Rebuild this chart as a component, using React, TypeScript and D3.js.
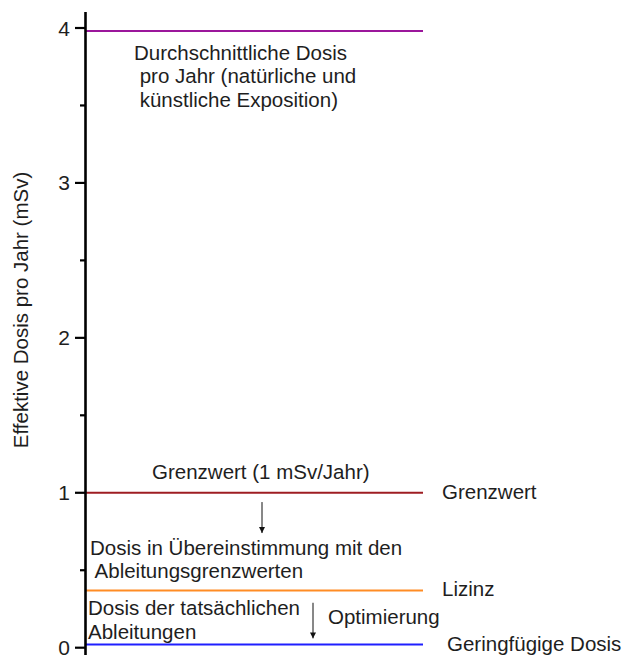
import React from "react";
import * as d3 from "d3";

// ---- data ----
const yTicks = [0, 1, 2, 3, 4];
const yMinorTicks = [0.5, 1.5, 2.5, 3.5];
const levelValues = [3.98, 1, 0.37, 0.02];
const levelLabels = ["", "Grenzwert", "Lizinz", "Geringfügige Dosis"];
const levelColors = ["#9b169b", "#9e1d22", "#ff8c24", "#1f1fff"];
const yAxisTitle = "Effektive Dosis pro Jahr (mSv)";

const annotationLines = [
  ["Durchschnittliche Dosis", " pro Jahr (natürliche und", " künstliche Exposition)"],
  ["Grenzwert (1 mSv/Jahr)"],
  ["Dosis in Übereinstimmung mit den", " Ableitungsgrenzwerten"],
  ["Dosis der tatsächlichen", "Ableitungen"],
  ["Optimierung"],
];
// y values (data units) of each annotation's first baseline
const annotationY = [3.795, 1.09, 0.6, 0.21, 0.15];
// arrows: [from, to] in data units
const arrowFrom = [0.94, 0.29];
const arrowTo = [0.74, 0.06];

const W = 624;
const H = 655;

export default function App() {
  const y = d3.scaleLinear().domain([0, 4]).range([647.7, 28]);
  const x = d3.scaleLinear().domain([0, 1]).range([86, 423]);
  const font = "'Liberation Sans', Arial, sans-serif";
  const fs = 20.5;
  const textColor = "#1e1e1e";

  const annX = [134, 152, 90, 88, 328];
  const annLineH = 23.5;
  const arrowX = [262, 313];

  return (
    <svg
      width={W}
      height={H}
      style={{ position: "absolute", left: 0, top: 0, background: "#fff" }}
      fontFamily={font}
    >
      <defs>
        <marker
          id="ah"
          viewBox="0 0 10 10"
          refX="10"
          refY="5"
          markerWidth="6"
          markerHeight="10"
          orient="auto"
          markerUnits="userSpaceOnUse"
        >
          <path d="M0,0 L10,5 L0,10 z" fill="#111" />
        </marker>
      </defs>

      {/* level lines */}
      {levelValues.map((v, i) => (
        <g key={"lv" + i}>
          <line
            x1={x(0)}
            x2={x(1)}
            y1={y(v)}
            y2={y(v)}
            stroke={levelColors[i]}
            strokeWidth={2}
          />
          {levelLabels[i] && (
            <text
              x={x(1) + (i === 3 ? 24 : 19)}
              y={y(v) + 6}
              fontSize={fs}
              fill={textColor}
            >
              {levelLabels[i]}
            </text>
          )}
        </g>
      ))}

      {/* axis */}
      <line x1={85.5} x2={85.5} y1={12} y2={H} stroke="#000" strokeWidth={2.6} />
      {yTicks.map((t) => (
        <g key={"t" + t}>
          <line x1={75} x2={85} y1={y(t)} y2={y(t)} stroke="#000" strokeWidth={2.2} />
          <text
            x={70}
            y={y(t)}
            dy="0.36em"
            textAnchor="end"
            fontSize={21}
            fill={textColor}
          >
            {t}
          </text>
        </g>
      ))}
      {yMinorTicks.map((t) => (
        <line key={"m" + t} x1={80} x2={85} y1={y(t)} y2={y(t)} stroke="#000" strokeWidth={2.2} />
      ))}
      <text
        transform={`translate(28,${310}) rotate(-90)`}
        textAnchor="middle"
        fontSize={fs}
        fill={textColor}
      >
        {yAxisTitle}
      </text>

      {/* annotations */}
      {annotationLines.map((lines, i) => (
        <text key={"a" + i} fontSize={fs} fill={textColor} xmlSpace="preserve">
          {lines.map((l, j) => (
            <tspan key={j} x={annX[i]} y={y(annotationY[i]) + j * annLineH}>
              {l}
            </tspan>
          ))}
        </text>
      ))}

      {/* arrows */}
      {arrowFrom.map((f, i) => (
        <line
          key={"ar" + i}
          x1={arrowX[i]}
          x2={arrowX[i]}
          y1={y(f)}
          y2={y(arrowTo[i])}
          stroke="#111"
          strokeWidth={1}
          markerEnd="url(#ah)"
        />
      ))}
    </svg>
  );
}
